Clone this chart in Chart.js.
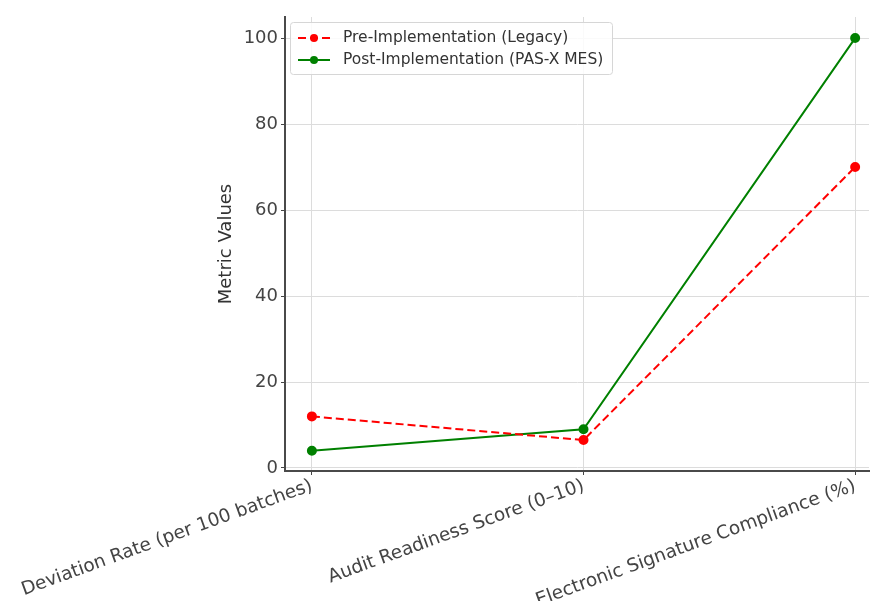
<!DOCTYPE html>
<html>
<head>
<meta charset="utf-8">
<script src="https://cdn.jsdelivr.net/npm/chart.js@4"></script>
<style>
  html, body { margin: 0; padding: 0; background: #fff; overflow: hidden; }
  canvas { display: block; }
</style>
</head>
<body>
<canvas id="c" width="875" height="601"></canvas>
<script>
const categories = ['Deviation Rate (per 100 batches)', 'Audit Readiness Score (0–10)', 'Electronic Signature Compliance (%)'];
const preValues = [12, 6.5, 70];
const postValues = [4, 9, 100];
const yTicks = [0, 20, 40, 60, 80, 100];
const seriesNames = ['Pre-Implementation (Legacy)', 'Post-Implementation (PAS-X MES)'];
const yTitle = 'Metric Values';

const FONT = "'DejaVu Sans', sans-serif";

const legendPlugin = {
  id: 'innerLegend',
  afterDraw(chart) {
    const ctx = chart.ctx;
    const x0 = 290, y0 = 22, w = 322, h = 52;
    ctx.save();
    ctx.beginPath();
    if (ctx.roundRect) ctx.roundRect(x0 + 0.5, y0 + 0.5, w, h, 3); else ctx.rect(x0 + 0.5, y0 + 0.5, w, h);
    ctx.fillStyle = 'rgba(255,255,255,0.85)';
    ctx.fill();
    ctx.strokeStyle = '#d6d6d6';
    ctx.lineWidth = 1;
    ctx.stroke();
    chart.data.datasets.forEach((ds, i) => {
      const cy = 38 + i * 22;
      ctx.beginPath();
      ctx.setLineDash(ds.borderDash || []);
      ctx.strokeStyle = ds.borderColor;
      ctx.lineWidth = ds.borderWidth;
      ctx.moveTo(298, cy);
      ctx.lineTo(330, cy);
      ctx.stroke();
      ctx.setLineDash([]);
      ctx.beginPath();
      ctx.arc(314, cy, ds.pointRadius, 0, Math.PI * 2);
      ctx.fillStyle = ds.pointBackgroundColor;
      ctx.fill();
      ctx.fillStyle = '#333';
      ctx.font = '15.5px ' + FONT;
      ctx.textBaseline = 'middle';
      ctx.textAlign = 'left';
      ctx.fillText(ds.label, 343, cy);
    });
    ctx.restore();
  }
};

new Chart(document.getElementById('c'), {
  type: 'line',
  data: {
    datasets: [
      {
        label: seriesNames[0],
        data: preValues.map((v, i) => ({ x: i, y: v })),
        borderColor: '#ff0000',
        backgroundColor: '#ff0000',
        pointBackgroundColor: '#ff0000',
        pointBorderColor: '#ff0000',
        borderDash: [8, 4],
        borderWidth: 2,
        pointRadius: 4,
        tension: 0,
        fill: false
      },
      {
        label: seriesNames[1],
        data: postValues.map((v, i) => ({ x: i, y: v })),
        borderColor: '#008000',
        backgroundColor: '#008000',
        pointBackgroundColor: '#008000',
        pointBorderColor: '#008000',
        borderWidth: 2,
        pointRadius: 4,
        tension: 0,
        fill: false
      }
    ]
  },
  options: {
    responsive: false,
    animation: false,
    devicePixelRatio: 1,
    layout: { padding: { left: 212, right: 3, top: 17, bottom: 0 } },
    plugins: { legend: { display: false }, tooltip: { enabled: false } },
    scales: {
      x: {
        type: 'linear',
        min: -0.099,
        max: 2.051,
        afterBuildTicks(scale) { scale.ticks = categories.map((c, i) => ({ value: i })); },
        afterFit(scale) { scale.height = 130; scale.paddingLeft = 0; scale.paddingRight = 0; },
        ticks: {
          callback: (v) => categories[v] ?? '',
          minRotation: 20,
          maxRotation: 20,
          color: '#444',
          font: { family: FONT, size: 18.5 },
          padding: 0,
          autoSkip: false
        },
        grid: {
          color: '#dcdcdc',
          borderDash: [2, 3],
          lineWidth: 1,
          tickLength: 4,
          tickColor: '#444',
          tickBorderDash: [],
          tickWidth: 1
        },
        border: { display: true, color: '#4a4a4a', width: 2 }
      },
      y: {
        type: 'linear',
        min: -0.7,
        max: 104.9,
        afterBuildTicks(scale) { scale.ticks = yTicks.map(v => ({ value: v })); },
        afterFit(scale) { scale.width = 73; scale.paddingTop = 0; scale.paddingBottom = 0; },
        ticks: {
          color: '#444',
          font: { family: FONT, size: 18 },
          padding: 3
        },
        title: {
          display: true,
          text: yTitle,
          color: '#333',
          font: { family: FONT, size: 18 },
          padding: { top: 4, bottom: 4 }
        },
        grid: {
          color: '#dcdcdc',
          borderDash: [2, 3],
          lineWidth: 1,
          tickLength: 4,
          tickColor: '#444',
          tickBorderDash: [],
          tickWidth: 1
        },
        border: { display: true, color: '#4a4a4a', width: 2 }
      }
    }
  },
  plugins: [legendPlugin]
});
</script>
</body>
</html>
